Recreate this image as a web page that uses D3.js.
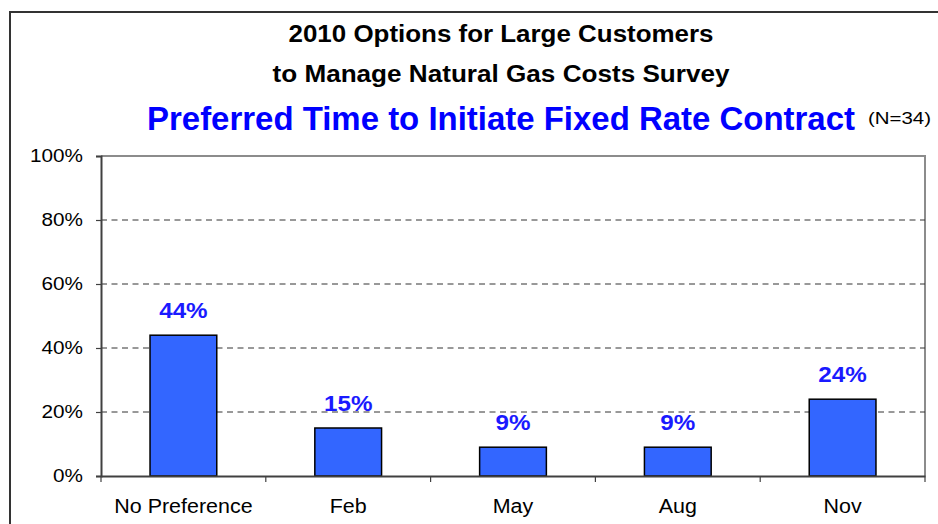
<!DOCTYPE html>
<html>
<head>
<meta charset="utf-8">
<script src="https://cdn.jsdelivr.net/npm/d3@7"></script>
<style>
  html, body { margin: 0; padding: 0; background: #fff; }
  svg { display: block; font-family: "Liberation Sans", Arial, sans-serif; }
</style>
</head>
<body>
<svg id="chart" width="938" height="524"></svg>
<script>
// Survey responses: preferred time to initiate a fixed rate contract
const categories = ["No Preference", "Feb", "May", "Aug", "Nov"];
const shares = [44, 15, 9, 9, 24];
const yTicks = [0, 20, 40, 60, 80, 100];
const titleLines = ["2010 Options for Large Customers", "to Manage Natural Gas Costs Survey"];
const subtitle = "Preferred Time to Initiate Fixed Rate Contract";
const sampleNote = "(N=34)";

const svg = d3.select("#chart");
const margin = { left: 101, right: 13, top: 156, bottom: 48 };
const W = 938, H = 524;

const x = d3.scaleBand().domain(categories).range([margin.left, W - margin.right]).paddingInner(0).paddingOuter(0);
const y = d3.scaleLinear().domain([0, 100]).range([H - margin.bottom, margin.top]);

// widen text horizontally to a given factor
function stretch(sel, k) {
  sel.each(function () {
    const len = this.getComputedTextLength();
    d3.select(this).attr("textLength", len * k).attr("lengthAdjust", "spacingAndGlyphs");
  });
}

// outer frame (left and top edges)
svg.append("path")
  .attr("d", `M10,${H} L10,12 L${W},12`)
  .attr("fill", "none").attr("stroke", "#333").attr("stroke-width", 2);

// titles
svg.selectAll("text.title").data(titleLines).join("text")
  .attr("class", "title")
  .attr("x", 501).attr("y", (d, i) => 41.5 + i * 40)
  .attr("text-anchor", "middle")
  .attr("font-size", 23).attr("font-weight", "bold").attr("fill", "#000")
  .text(d => d)
  .attr("textLength", (d, i) => [425, 457][i]).attr("lengthAdjust", "spacingAndGlyphs");

svg.append("text")
  .attr("x", 147).attr("y", 129.5)
  .attr("font-size", 32.5).attr("font-weight", "bold").attr("fill", "#0000ff")
  .text(subtitle)
  .attr("textLength", 708).attr("lengthAdjust", "spacingAndGlyphs");

svg.append("text")
  .attr("x", 868).attr("y", 124)
  .attr("font-size", 17).attr("fill", "#000")
  .text(sampleNote)
  .attr("textLength", 63).attr("lengthAdjust", "spacingAndGlyphs");

// plot frame: top and right edges
svg.append("path")
  .attr("d", `M${margin.left},${y(100)} L${W - margin.right},${y(100)} L${W - margin.right},${y(0)}`)
  .attr("fill", "none").attr("stroke", "#8c8c8c").attr("stroke-width", 2);

// dashed gridlines
svg.append("g").selectAll("line").data(yTicks.filter(t => t > 0 && t < 100)).join("line")
  .attr("x1", margin.left).attr("x2", W - margin.right)
  .attr("y1", d => y(d)).attr("y2", d => y(d))
  .attr("stroke", "#333").attr("stroke-width", 1).attr("stroke-dasharray", "6,4.5");

// y axis
const yAxis = svg.append("g")
  .attr("transform", `translate(${margin.left},0)`)
  .call(d3.axisLeft(y).tickValues(yTicks).tickFormat(d => d + "%").tickSize(5).tickPadding(13));
yAxis.select(".domain").attr("stroke", "#404040").attr("stroke-width", 2);
yAxis.selectAll(".tick line").attr("stroke", "#404040").attr("stroke-width", 1.2);
yAxis.selectAll(".tick text")
  .attr("font-size", 18.5).attr("fill", "#000").attr("font-family", "Liberation Sans, Arial, sans-serif")
  .call(stretch, 1.12);

// bars
const barW = x.bandwidth() * 0.405;
svg.append("g").selectAll("rect").data(categories).join("rect")
  .attr("x", d => x(d) + (x.bandwidth() - barW) / 2)
  .attr("y", (d, i) => y(shares[i]))
  .attr("width", barW)
  .attr("height", (d, i) => y(0) - y(shares[i]))
  .attr("fill", "#3366ff").attr("stroke", "#000").attr("stroke-width", 1.5);

// x axis
const xAxis = svg.append("g")
  .attr("transform", `translate(0,${y(0)})`)
  .call(d3.axisBottom(x).tickSize(0).tickPadding(37));
xAxis.select(".domain").attr("stroke", "#404040").attr("stroke-width", 2);
xAxis.selectAll(".tick text")
  .attr("font-size", 19.5).attr("fill", "#000").attr("font-family", "Liberation Sans, Arial, sans-serif")
  .attr("dy", "0")
  .call(stretch, 1.1);
// tick marks at category boundaries
svg.append("g").selectAll("line").data(categories.map(c => x(c)).concat([x.range()[1]])).join("line")
  .attr("x1", d => d).attr("x2", d => d)
  .attr("y1", y(0)).attr("y2", y(0) + 6)
  .attr("stroke", "#404040").attr("stroke-width", 1.2);

// value labels
svg.append("g").selectAll("text").data(categories).join("text")
  .attr("x", d => x(d) + x.bandwidth() / 2)
  .attr("y", (d, i) => y(shares[i]) - 17)
  .attr("text-anchor", "middle")
  .attr("font-size", 22).attr("font-weight", "bold").attr("fill", "#1a1aff")
  .text((d, i) => shares[i] + "%")
  .call(stretch, 1.1);
</script>
</body>
</html>
